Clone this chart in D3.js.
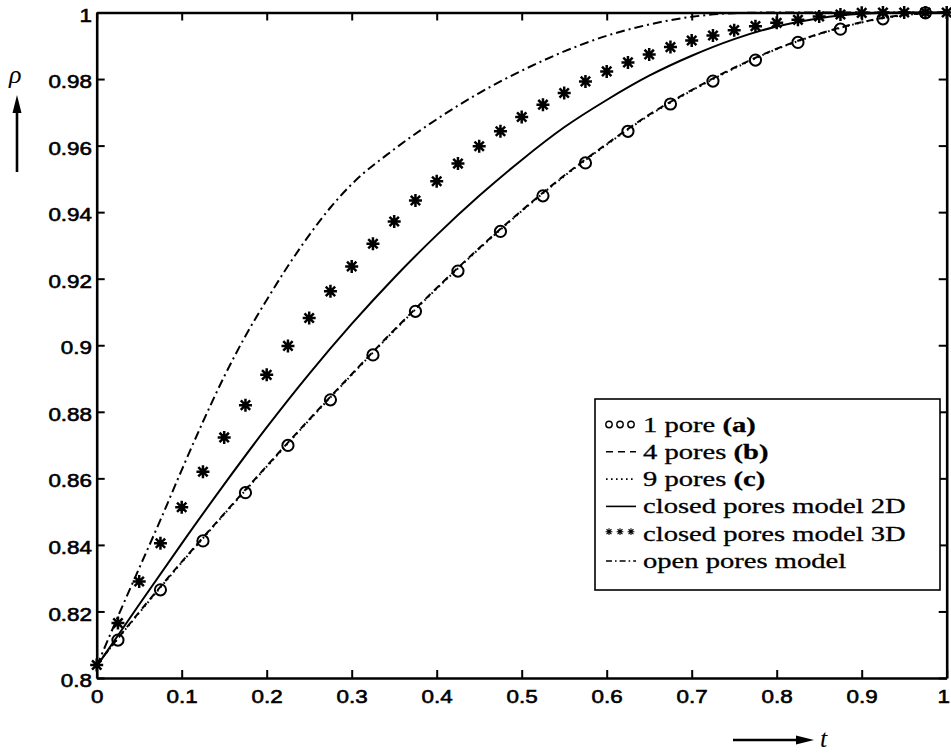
<!DOCTYPE html>
<html>
<head>
<meta charset="utf-8">
<script src="https://cdn.jsdelivr.net/npm/d3@7"></script>
<style>
  body { margin: 0; background: #fff; }
  svg { display: block; }
</style>
</head>
<body>
<svg id="chart" width="951" height="755"></svg>
<script>
// sample times for the model curves
const tLine = [0, 0.05, 0.1, 0.15, 0.2, 0.25, 0.3, 0.35, 0.4, 0.45, 0.5,
  0.55, 0.6, 0.65, 0.7, 0.75, 0.8, 0.85, 0.9, 0.95, 1];
const closed2D = [0.8035, 0.8221, 0.8404, 0.8582, 0.8753, 0.8914, 0.9064, 0.9203, 0.9331, 0.9449, 0.9557,
  0.9655, 0.9737, 0.981, 0.987, 0.992, 0.9958, 0.9983, 0.9996, 1, 1];
const pores4 = [0.804, 0.8198, 0.8349, 0.8494, 0.8637, 0.8777, 0.8913, 0.9046, 0.9172, 0.9292, 0.9405,
  0.951, 0.9605, 0.9693, 0.9767, 0.9834, 0.9891, 0.9936, 0.9971, 0.9993, 1];
const pores9 = [0.804, 0.8196, 0.8347, 0.8492, 0.8635, 0.8775, 0.8911, 0.9044, 0.917, 0.929, 0.9403,
  0.9508, 0.9603, 0.9691, 0.9765, 0.9832, 0.989, 0.9935, 0.997, 0.9992, 1];

const tOpen = [0, 0.025, 0.05, 0.075, 0.1, 0.125, 0.15, 0.175, 0.2, 0.225, 0.25, 0.275, 0.3,
  0.35, 0.4, 0.45, 0.5, 0.55, 0.6, 0.65, 0.7, 0.75, 0.8, 0.9, 1];
const openPores = [0.8035, 0.8185, 0.833, 0.8475, 0.8625, 0.877, 0.8906, 0.9028, 0.9136, 0.9238, 0.9331, 0.9414, 0.9484,
  0.9589, 0.9679, 0.9758, 0.9825, 0.9883, 0.993, 0.9964, 0.9987, 0.9998, 1, 1, 1];

// 1 pore simulation (circles)
const tCircle = [0.025, 0.075, 0.125, 0.175, 0.225, 0.275, 0.325, 0.375, 0.425, 0.475,
  0.525, 0.575, 0.625, 0.675, 0.725, 0.775, 0.825, 0.875, 0.925, 0.975];
const pore1 = [0.8114, 0.8265, 0.8412, 0.8557, 0.8699, 0.8836, 0.8971, 0.9102, 0.9223, 0.9342,
  0.9449, 0.9548, 0.9643, 0.9725, 0.9794, 0.9857, 0.991, 0.995, 0.9981, 0.9999];

// closed pores model 3D (asterisks)
const tStar = [0, 0.025, 0.05, 0.075, 0.1, 0.125, 0.15, 0.175, 0.2, 0.225, 0.25, 0.275, 0.3, 0.325,
  0.35, 0.375, 0.4, 0.425, 0.45, 0.475, 0.5, 0.525, 0.55, 0.575, 0.6, 0.625, 0.65, 0.675, 0.7,
  0.725, 0.75, 0.775, 0.8, 0.825, 0.85, 0.875, 0.9, 0.925, 0.95, 0.975, 1];
const closed3D = [0.8039, 0.8165, 0.829, 0.8405, 0.8513, 0.862, 0.8723, 0.882, 0.8911, 0.8998, 0.9082, 0.9162, 0.9237, 0.9305,
  0.9372, 0.9435, 0.9493, 0.9546, 0.9598, 0.9643, 0.9686, 0.9723, 0.9758, 0.9793, 0.9823, 0.985, 0.9874, 0.9896, 0.9916,
  0.9931, 0.9947, 0.9959, 0.9969, 0.9978, 0.9988, 0.9994, 0.9999, 1, 1, 1, 1];

const xTicks = [0, 0.1, 0.2, 0.3, 0.4, 0.5, 0.6, 0.7, 0.8, 0.9, 1];
const xTickLabels = ["0", "0.1", "0.2", "0.3", "0.4", "0.5", "0.6", "0.7", "0.8", "0.9", "1"];
const yTicks = [0.8, 0.82, 0.84, 0.86, 0.88, 0.9, 0.92, 0.94, 0.96, 0.98, 1];
const yTickLabels = ["0.8", "0.82", "0.84", "0.86", "0.88", "0.9", "0.92", "0.94", "0.96", "0.98", "1"];

const legendLabels = ["1 pore ", "4 pores ", "9 pores ", "closed pores model 2D", "closed pores model 3D", "open pores model"];
const legendTags = ["(a)", "(b)", "(c)", "", "", ""];

var svg = d3.select("#chart");

var x = d3.scaleLinear().domain([0, 1]).range([96.7, 946.7]);
var y = d3.scaleLinear().domain([0.8, 1]).range([678, 12.5]);

function star(r) {
  var d = r * 0.72;
  return "M" + (-r) + ",0H" + r + "M0," + (-r) + "V" + r +
    "M" + (-d) + "," + (-d) + "L" + d + "," + d +
    "M" + (-d) + "," + d + "L" + d + "," + (-d);
}

var line = d3.line()
  .x(function(d) { return x(d[0]); })
  .y(function(d) { return y(d[1]); })
  .curve(d3.curveMonotoneX);

var labelFont = "'Liberation Sans', Arial, sans-serif";
var serifFont = "'Liberation Serif', 'Times New Roman', serif";

// axes (ticks point inwards like matlab)
var bottom = svg.append("g")
  .attr("transform", "translate(0," + y(0.8) + ")")
  .call(d3.axisBottom(x).tickValues(xTicks).tickSizeInner(-8).tickSizeOuter(0).tickPadding(12)
    .tickFormat(function(d, i) { return xTickLabels[i]; }));
var left = svg.append("g")
  .attr("transform", "translate(" + x(0) + ",0)")
  .call(d3.axisLeft(y).tickValues(yTicks).tickSizeInner(-8).tickSizeOuter(0).tickPadding(4)
    .tickFormat(function(d, i) { return yTickLabels[i]; }));
svg.append("g")
  .attr("transform", "translate(0," + y(1) + ")")
  .call(d3.axisTop(x).tickValues(xTicks).tickSizeInner(-8).tickSizeOuter(0).tickFormat(""));
svg.append("g")
  .attr("transform", "translate(" + x(1) + ",0)")
  .call(d3.axisRight(y).tickValues(yTicks).tickSizeInner(-8).tickSizeOuter(0).tickFormat(""));

svg.selectAll(".domain").attr("stroke", "#000").attr("stroke-width", 2.6);
svg.selectAll(".tick line").attr("stroke", "#000").attr("stroke-width", 2);
svg.selectAll(".tick text")
  .attr("fill", "#000")
  .style("font-family", labelFont)
  .style("font-size", "19px")
  .attr("stroke", "#000")
  .attr("stroke-width", 0.6)
  .attr("transform", "scale(1.18,1)");
left.selectAll(".tick text").attr("dy", "0.45em");
bottom.selectAll(".tick text").filter(function(d) { return d === 1; }).attr("dx", -3);

// curves
var curves = [
  { t: tLine, v: pores4, dash: "7,5" },
  { t: tLine, v: pores9, dash: "1.6,3.4" },
  { t: tLine, v: closed2D, dash: null },
  { t: tOpen, v: openPores, dash: "9,4,2,4" }
];
curves.forEach(function(c) {
  svg.append("path")
    .datum(c.t.map(function(t, i) { return [t, c.v[i]]; }))
    .attr("d", line)
    .attr("fill", "none")
    .attr("stroke", "#000")
    .attr("stroke-width", 2)
    .attr("stroke-dasharray", c.dash);
});

svg.selectAll(".circ")
  .data(tCircle)
  .enter().append("circle")
  .attr("class", "circ")
  .attr("cx", function(d) { return x(d); })
  .attr("cy", function(d, i) { return y(pore1[i]); })
  .attr("r", 5.6)
  .attr("fill", "none")
  .attr("stroke", "#000")
  .attr("stroke-width", 2);

svg.selectAll(".star")
  .data(tStar)
  .enter().append("path")
  .attr("class", "star")
  .attr("transform", function(d, i) { return "translate(" + x(d) + "," + y(closed3D[i]) + ")"; })
  .attr("d", star(6.5))
  .attr("fill", "none")
  .attr("stroke", "#000")
  .attr("stroke-width", 2.5);

// legend
var lg = svg.append("g");
lg.append("rect")
  .attr("x", 595).attr("y", 399)
  .attr("width", 345).attr("height", 191)
  .attr("fill", "#fff")
  .attr("stroke", "#000")
  .attr("stroke-width", 1.6);

var styles = ["circle", "7,5", "1.6,3.4", null, "star", "6,3,1.6,3"];
legendLabels.forEach(function(name, i) {
  var base = 431.5 + i * 27.3;
  var cy = base - 7;
  var s = styles[i];
  if (s === "circle") {
    [609, 620, 631].forEach(function(cx) {
      lg.append("circle").attr("cx", cx).attr("cy", cy).attr("r", 3.2)
        .attr("fill", "none").attr("stroke", "#000").attr("stroke-width", 1.4);
    });
  } else if (s === "star") {
    [609, 620, 631].forEach(function(cx) {
      lg.append("path").attr("transform", "translate(" + cx + "," + (cy - 2) + ")")
        .attr("d", star(3.4)).attr("fill", "none").attr("stroke", "#000").attr("stroke-width", 1.1);
    });
  } else {
    lg.append("line").attr("x1", 606).attr("x2", 636).attr("y1", cy).attr("y2", cy)
      .attr("stroke", "#000").attr("stroke-width", 1.6)
      .attr("stroke-dasharray", s);
  }
  var txt = lg.append("text")
    .attr("transform", "translate(643," + base + ") scale(1.3,1)")
    .style("font-family", serifFont)
    .style("font-size", "22px")
    .attr("fill", "#000")
    .attr("stroke", "#000")
    .attr("stroke-width", 0.3);
  txt.append("tspan").text(name);
  if (legendTags[i]) {
    txt.append("tspan").style("font-weight", "bold").text(legendTags[i]);
  }
});

// axis names with arrows
svg.append("text")
  .attr("x", 9).attr("y", 83)
  .style("font-family", serifFont)
  .style("font-style", "italic")
  .style("font-size", "26px")
  .text("ρ");
svg.append("line").attr("x1", 17).attr("x2", 17).attr("y1", 172).attr("y2", 108)
  .attr("stroke", "#000").attr("stroke-width", 2.6);
svg.append("path").attr("d", "M17,95L12.5,113L21.5,113Z").attr("fill", "#000");

svg.append("line").attr("x1", 733).attr("x2", 800).attr("y1", 740).attr("y2", 740)
  .attr("stroke", "#000").attr("stroke-width", 2.6);
svg.append("path").attr("d", "M814,740L796,735.5L796,744.5Z").attr("fill", "#000");
svg.append("text")
  .attr("x", 820).attr("y", 747)
  .style("font-family", serifFont)
  .style("font-style", "italic")
  .style("font-size", "26px")
  .text("t");
</script>
</body>
</html>
